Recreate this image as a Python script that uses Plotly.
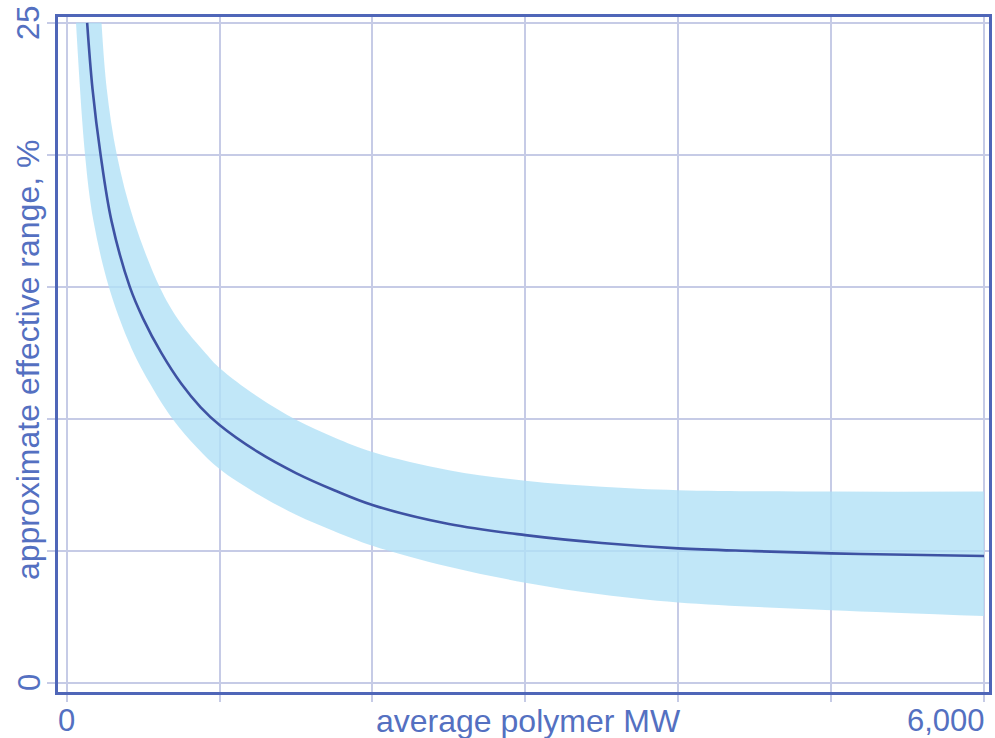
import plotly.graph_objects as go

# ---- data ----
center_x = [134, 169, 222, 293, 413, 500, 619, 750, 875, 1000, 1250, 1500, 1750, 2000, 2500, 3000, 3500, 4000, 4500, 5000, 5500, 6000]
center_y = [25, 22.5, 20, 17.5, 15, 13.8, 12.5, 11.33, 10.45, 9.77, 8.75, 7.95, 7.30, 6.74, 6.02, 5.60, 5.30, 5.10, 4.995, 4.91, 4.855, 4.81]

upper_x = [228, 262, 328, 440, 608, 735, 910, 1000, 1250, 1500, 1750, 2000, 2500, 3000, 3500, 4000, 5000, 6000]
upper_y = [25, 22.5, 20, 17.5, 15, 13.72, 12.48, 11.93, 10.84, 9.97, 9.30, 8.75, 8.06, 7.66, 7.43, 7.30, 7.25, 7.25]

lower_x = [61, 120, 175, 276, 400, 500, 693, 850, 1000, 1250, 1500, 1750, 2000, 2500, 3000, 3500, 4000, 5000, 6000]
lower_y = [25, 20, 17.5, 15, 13.0, 11.8, 10.0, 8.93, 8.1, 7.15, 6.375, 5.75, 5.2, 4.4, 3.8, 3.35, 3.05, 2.76, 2.54]

x_ticks = [0, 1000, 2000, 3000, 4000, 5000, 6000]
y_ticks = [0, 5, 10, 15, 20, 25]
x_tick_labels = {0: "0", 6000: "6,000"}
y_tick_labels = {0: "0", 25: "25"}
x_title = "average polymer MW"
y_title = "approximate effective range, %"

# ---- styling ----
TEXT = "#5470C1"
GRID = "#C6CBE6"
FRAME = "#4F66B8"
BAND = "rgba(176,224,246,0.78)"
LINE = "#3E52A3"
FONT = "Liberation Sans, Arial, sans-serif"
FS_TICK = 31
FS_TITLE = 32

W, H = 995, 738
ML, MR, MT, MB = 58, 3, 17, 46
PW, PH = W - ML - MR, H - MT - MB


def px_x(p):
    return (p - ML) / PW


def px_y(p):
    return (H - MB - p) / PH


fig = go.Figure()
fig.add_trace(go.Scatter(x=lower_x, y=lower_y, mode="lines",
                         line=dict(width=0, color=BAND, shape="spline", smoothing=1.0),
                         hoverinfo="skip", showlegend=False))
fig.add_trace(go.Scatter(x=upper_x, y=upper_y, mode="lines", fill="tonexty",
                         fillcolor=BAND,
                         line=dict(width=0, color=BAND, shape="spline", smoothing=1.0),
                         hoverinfo="skip", showlegend=False))
fig.add_trace(go.Scatter(x=center_x, y=center_y, mode="lines",
                         line=dict(width=2.6, color=LINE, shape="spline", smoothing=1.0),
                         showlegend=False))

fig.update_xaxes(range=[-56.7, 6032.6], tickvals=x_ticks, showticklabels=False,
                 showgrid=True, gridcolor=GRID, gridwidth=1.5, zeroline=False,
                 showline=True, linecolor=FRAME, linewidth=2.5, mirror=True,
                 ticks="outside", ticklen=7, tickcolor=GRID, tickwidth=1.5)
fig.update_yaxes(range=[-0.34, 25.22], tickvals=y_ticks, showticklabels=False,
                 showgrid=True, gridcolor=GRID, gridwidth=1.5, zeroline=False,
                 showline=True, linecolor=FRAME, linewidth=2.5, mirror=True,
                 ticks="outside", ticklen=8, tickcolor=GRID, tickwidth=1.5)

ann = []
tfont = dict(family=FONT, size=FS_TICK, color=TEXT)
hfont = dict(family=FONT, size=FS_TITLE, color=TEXT)
for v, t in x_tick_labels.items():
    if v == 6000:
        ann.append(dict(x=px_x(990), y=px_y(721), xref="paper", yref="paper",
                        text=t, showarrow=False, xanchor="right", yanchor="middle", font=tfont))
    else:
        ann.append(dict(x=v, y=px_y(721), xref="x", yref="paper",
                        text=t, showarrow=False, xanchor="center", yanchor="middle", font=tfont))
ann.append(dict(x=px_x(530), y=px_y(721), xref="paper", yref="paper", text=x_title,
                showarrow=False, xanchor="center", yanchor="middle", font=hfont))
for v, t in y_tick_labels.items():
    ann.append(dict(x=px_x(29), y=v, xref="paper", yref="y", text=t, textangle=-90,
                    showarrow=False, xanchor="center", yanchor="middle", font=tfont))
ann.append(dict(x=px_x(28), y=px_y(360), xref="paper", yref="paper", text=y_title,
                textangle=-90, showarrow=False, xanchor="center", yanchor="middle", font=hfont))

fig.update_layout(width=W, height=H, margin=dict(l=ML, r=MR, t=MT, b=MB),
                  paper_bgcolor="white", plot_bgcolor="white", annotations=ann,
                  showlegend=False)

fig.write_html("out.html", config={"displayModeBar": False},
               post_script="document.body.style.margin='0';document.body.style.overflow='hidden';")
